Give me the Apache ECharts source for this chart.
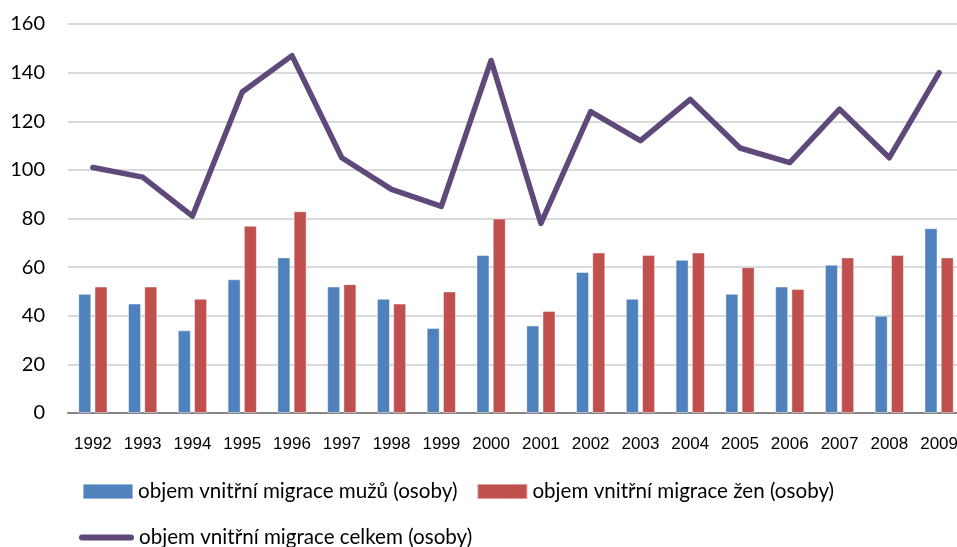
<!DOCTYPE html>
<html>
<head>
<meta charset="utf-8">
<script src="https://cdn.jsdelivr.net/npm/echarts@6/dist/echarts.min.js"></script>
<style>
  html, body { margin: 0; padding: 0; background: #fff; }
  #chart { width: 957px; height: 547px; }
</style>
</head>
<body>
<div id="chart"></div>
<script>
// Internal migration volume by year (persons)
const years = ['1992','1993','1994','1995','1996','1997','1998','1999','2000',
               '2001','2002','2003','2004','2005','2006','2007','2008','2009'];
const men   = [49, 45, 34, 55, 64, 52, 47, 35, 65, 36, 58, 47, 63, 49, 52, 61, 40, 76];
const women = [52, 52, 47, 77, 83, 53, 45, 50, 80, 42, 66, 65, 66, 60, 51, 64, 65, 64];
const total = [101, 97, 81, 132, 147, 105, 92, 85, 145, 78, 124, 112, 129, 109, 103, 125, 105, 140];

const nameMen   = 'objem vnitřní migrace mužů (osoby)';
const nameWomen = 'objem vnitřní migrace žen (osoby)';
const nameTotal = 'objem vnitřní migrace celkem (osoby)';

const textFont = 'Lato, "Liberation Sans", sans-serif';
const capsule = 'path://M3,0 H52 A3,3 0 0 1 52,6 H3 A3,3 0 0 1 3,0 Z';

const chart = echarts.init(document.getElementById('chart'), null, { renderer: 'canvas' });

chart.setOption({
  animation: false,
  backgroundColor: '#ffffff',
  grid: {
    left: 68, right: -7, top: 24, bottom: 134,
    containLabel: false, outerBoundsMode: 'none'
  },
  legend: [
    {
      data: [nameMen, nameWomen],
      left: 77, top: 476,
      itemWidth: 50, itemHeight: 15, itemGap: 19,
      icon: 'rect',
      textStyle: { fontFamily: textFont, fontSize: 20.6, color: '#000' }
    },
    {
      data: [{ name: nameTotal, icon: capsule }],
      left: 74, top: 522,
      itemWidth: 55, itemHeight: 6, itemGap: 10,
      textStyle: { fontFamily: textFont, fontSize: 20.6, color: '#000' }
    }
  ],
  xAxis: {
    type: 'category',
    data: years,
    boundaryGap: true,
    axisTick: { show: false },
    axisLine: { lineStyle: { color: '#868686', width: 2 } },
    axisLabel: {
      interval: 0,
      margin: 23,
      fontFamily: '"Liberation Sans", sans-serif',
      fontSize: 17,
      color: '#000'
    }
  },
  yAxis: {
    type: 'value',
    min: 0, max: 160, interval: 20,
    axisLine: { show: false },
    axisTick: { show: false },
    splitLine: { lineStyle: { color: '#d9d9d9', width: 2 } },
    axisLabel: {
      margin: 23,
      fontFamily: textFont,
      fontSize: 20,
      color: '#000'
    }
  },
  series: [
    {
      name: nameMen,
      type: 'bar',
      data: men,
      barWidth: 13,
      barGap: '25%',
      itemStyle: { color: '#4F81BD', borderColor: 'rgba(255,255,255,0.45)', borderWidth: 1 }
    },
    {
      name: nameWomen,
      type: 'bar',
      data: women,
      barWidth: 13,
      barGap: '25%',
      itemStyle: { color: '#C0504D', borderColor: 'rgba(255,255,255,0.45)', borderWidth: 1 }
    },
    {
      name: nameTotal,
      type: 'line',
      data: total,
      symbol: 'none',
      lineStyle: { color: '#5F497A', width: 5.5, cap: 'round', join: 'round' },
      itemStyle: { color: '#5F497A' },
      z: 5
    }
  ]
});
</script>
</body>
</html>
